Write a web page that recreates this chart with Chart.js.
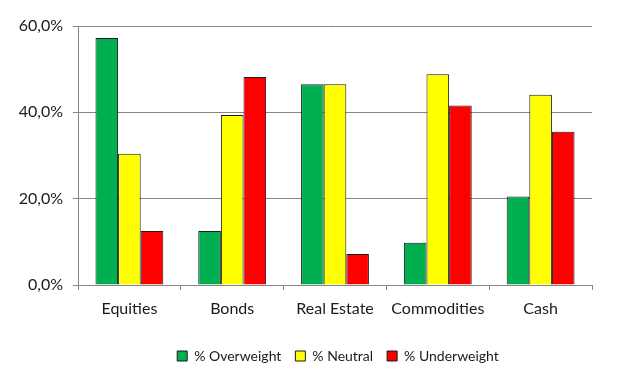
<!DOCTYPE html>
<html>
<head>
<meta charset="utf-8">
<script src="https://cdn.jsdelivr.net/npm/chart.js@4"></script>
<style>
html,body{margin:0;padding:0;background:#fff;}
#wrap{width:640px;height:379px;position:relative;}
</style>
</head>
<body>
<div id="wrap"><canvas id="c" width="640" height="379"></canvas></div>
<script>
const categories = ["Equities", "Bonds", "Real Estate", "Commodities", "Cash"];
const seriesNames = ["% Overweight", "% Neutral", "% Underweight"];
const overweight = [57.2, 12.5, 46.5, 9.8, 20.5];
const neutral = [30.4, 39.4, 46.5, 48.8, 44.1];
const underweight = [12.5, 48.2, 7.2, 41.6, 35.5];
const yTicks = [0, 20, 40, 60];
const colors = ["#00B050", "#FFFF00", "#FF0000"];

const FONT = "Lato, 'Open Sans', sans-serif";
const TXT = "#1a1a1a";
const GRID = "#868686";

const ds = [overweight, neutral, underweight].map((d, i) => ({
  label: seriesNames[i],
  data: d,
  backgroundColor: colors[i],
  borderColor: "#1a1a1a",
  borderWidth: 1,
  borderSkipped: "bottom",
  categoryPercentage: 0.66,
  barPercentage: 1.0
}));

// center the legend under the plot area rather than the whole canvas
const legendShift = {
  id: "legendShift",
  afterLayout(chart) {
    const lg = chart.legend, ca = chart.chartArea;
    if (!lg) return;
    const dx = (ca.left + ca.right) / 2 + 3 - (lg.left + lg.right) / 2;
    lg.left += dx; lg.right += dx;
  }
};

new Chart(document.getElementById("c"), {
  type: "bar",
  data: { labels: categories, datasets: ds },
  plugins: [legendShift],
  options: {
    responsive: false,
    animation: false,
    devicePixelRatio: 1,
    layout: { padding: { left: 0, right: 48, top: 26, bottom: 6 } },
    plugins: {
      tooltip: { enabled: false },
      legend: {
        position: "bottom",
        labels: {
          font: { family: FONT, size: 14 },
          color: TXT,
          boxWidth: 10,
          boxHeight: 10,
          padding: 14,
          generateLabels(chart) {
            return chart.data.datasets.map((d, i) => ({
              text: d.label,
              fillStyle: d.backgroundColor,
              strokeStyle: "#1a1a1a",
              lineWidth: 1,
              fontColor: TXT,
              datasetIndex: i
            }));
          }
        }
      }
    },
    scales: {
      x: {
        grid: { drawOnChartArea: false, drawTicks: true, tickLength: 5, offset: true, color: GRID, lineWidth: 1 },
        border: { color: GRID, width: 1 },
        ticks: { font: { family: FONT, size: 16 }, color: TXT, padding: 9 },
        afterFit(s) { s.height = 50; }
      },
      y: {
        min: 0, max: 60,
        afterBuildTicks(s) { s.ticks = yTicks.map(v => ({ value: v })); },
        grid: { color: GRID, lineWidth: 1, tickLength: 5 },
        border: { color: GRID, width: 1 },
        ticks: {
          font: { family: FONT, size: 16 }, color: TXT, padding: 10,
          callback: v => v.toFixed(1).replace(".", ",") + "%"
        },
        afterFit(s) { s.width = 78; }
      }
    }
  }
});
</script>
</body>
</html>
